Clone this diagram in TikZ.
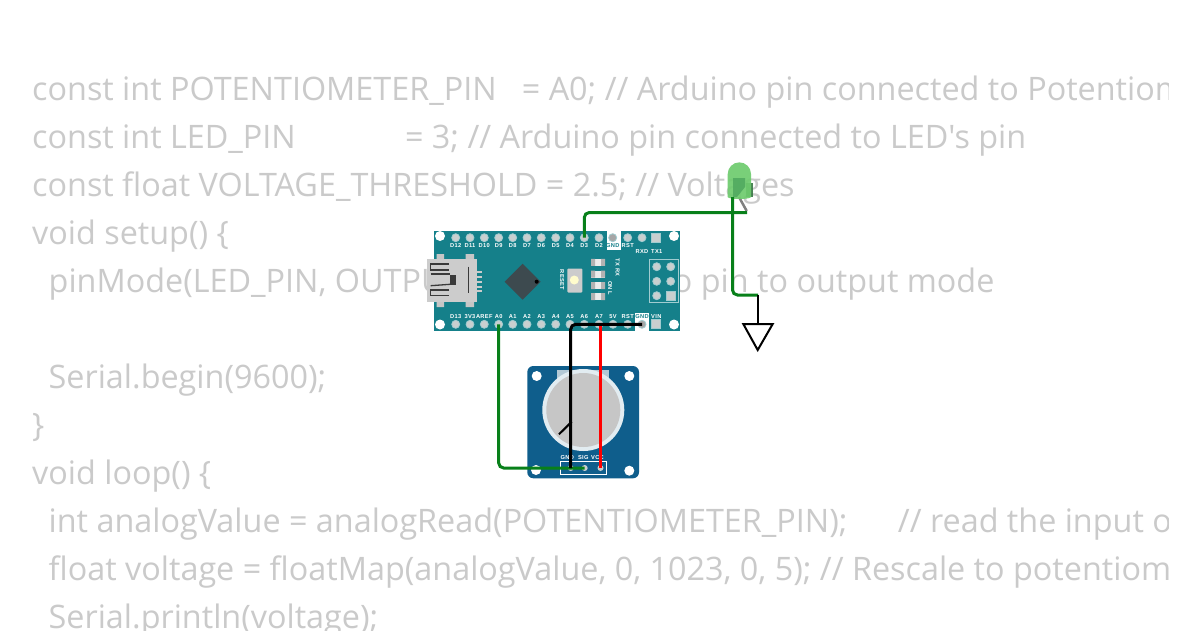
\documentclass[tikz,border=0pt]{standalone}
\usepackage{fontspec}
\usepackage{tikz}
\usetikzlibrary{arrows,positioning}
\newfontfamily\codefont{Open Sans}
\newfontfamily\silkfont[LetterSpace=6]{Liberation Sans}
\definecolor{boardteal}{HTML}{15808A}
\definecolor{potblue}{HTML}{0F5E8C}
\definecolor{codegray}{HTML}{CACACA}
\definecolor{wiregreen}{HTML}{08801A}
\definecolor{wirered}{HTML}{FF0000}
\definecolor{pinhole}{HTML}{C9CFCF}
\definecolor{chipdark}{HTML}{3D4A4F}
\definecolor{usbline}{HTML}{3A3A3A}
\definecolor{ledbody}{HTML}{6ECB6E}
\definecolor{ledcore}{HTML}{4FA85F}
\tikzset{
  codeline/.style={anchor=base west,inner sep=0pt,text=codegray,font=\codefont\fontsize{32.35}{32.35}\selectfont},
  pinpad/.style={circle,fill=pinhole,draw=white!60!boardteal,line width=.8pt,minimum size=8pt,inner sep=0pt},
  squarepad/.style={rectangle,fill=pinhole,draw=white!60!boardteal,line width=.8pt,minimum size=9pt,inner sep=0pt},
  mounthole/.style={circle,fill=white,minimum size=10pt,inner sep=0pt},
  silk/.style={inner sep=0pt,text=white,font=\silkfont\bfseries\fontsize{5.7}{5.7}\selectfont},
  silkdark/.style={silk,text=boardteal},
  ledchip/.style={rectangle,fill=white!85!gray,minimum width=14pt,minimum height=7pt,inner sep=0pt},
  potpad/.style={circle,fill=pinhole,minimum size=6pt,inner sep=0pt},
  usbink/.style={usbline,line width=1.3pt},
  wire/.style={line width=3pt,rounded corners=5pt}
}
\begin{document}
\begin{tikzpicture}[x=1pt,y=-1pt]
    \useasboundingbox (0,0) rectangle (1200,630);
    \fill[white] (0,0) rectangle (1200,630);

    % code behind the circuit
    \begin{scope}
      \clip (0,0) rectangle (1168,630);
      \node[codeline] (code1) at (32,100) {const int POTENTIOMETER\_PIN~~~= A0; // Arduino pin connected to Potentiom};
      \node[codeline] (code2) at (32,148) {const int LED\_PIN~~~~~~~~~~~~~= 3; // Arduino pin connected to LED's pin};
      \node[codeline] (code3) at (32,196) {const float VOLTAGE\_THRESHOLD = 2.5; // Voltages};
      \node[codeline] (code4) at (32,244) {void setup() \{};
      \node[codeline] (code5) at (48.5,292) {pinMode(LED\_PIN, OUTPUT); // set arduino pin to output mode};
      \node[codeline] (code6) at (48.5,388) {Serial.begin(9600);};
      \node[codeline] (code7) at (32,436) {\}};
      \node[codeline] (code8) at (32,484) {void loop() \{};
      \node[codeline] (code9) at (48.5,532) {int analogValue = analogRead(POTENTIOMETER\_PIN);~~~~~~// read the input o};
      \node[codeline] (code10) at (48.5,580) {float voltage = floatMap(analogValue, 0, 1023, 0, 5); // Rescale to potentiom};
      \node[codeline] (code11) at (48.5,628) {Serial.println(voltage);};
    \end{scope}

    % nano board
    \fill[boardteal] (434,231) rectangle (680,331);
    \fill[white] (606.7,231) rectangle (620.7,249.5);
    \fill[white] (635,312.5) rectangle (649.3,331);
    \foreach \pos/\x in {a/440,b/674} {
      \node[mounthole] (hole\pos top) at (\x,236) {};
      \node[mounthole] (hole\pos bot) at (\x,324.5) {};
    }
    \foreach \name/\x in {D12/455.7,D11/470,D10/484.3,D9/498.7,D8/512.7,D7/527,D6/541.3,D5/555.7,D4/570,D3/584.3,D2/599,RST/627.7,RXD/642} {
      \node[pinpad] (pin\name) at (\x,237.7) {};
    }
    \node[pinpad,fill=gray!70] (pinGNDtop) at (612.7,237.7) {};
    \node[squarepad] (pinTX) at (656.3,237.7) {};
    \foreach \name/\x in {D12/455.7,D11/470,D10/484.3,D9/498.7,D8/512.7,D7/527,D6/541.3,D5/555.7,D4/570,D3/584.3,D2/599,RST/627.7} {
      \node[silk] (label\name) at (\x,245.7) {\name};
    }
    \node[silkdark] (labelGNDtop) at (612.7,245.7) {GND};
    \node[silk] (labelRXD) at (642,252) {RXD};
    \node[silk] (labelTX) at (656.8,252) {TX1};
    \foreach \name/\x in {D13/455.7,3V3/470,AREF/484.3,A0/498.7,A1/512.7,A2/527,A3/541.3,A4/555.7,A5/570,A6/584.3,A7/599,5V/613,RSTb/627.7} {
      \node[pinpad] (pin\name) at (\x,324.3) {};
    }
    \foreach \name/\x in {D13/455.7,3V3/470,AREF/484.3,A0/498.7,A1/512.7,A2/527,A3/541.3,A4/555.7,A5/570,A6/584.3,A7/599,5V/613,RST/627.7} {
      \node[silk] (bot\name) at (\x,316.7) {\name};
    }
    \node[pinpad,fill=gray!70] (pinGNDbot) at (642,324.3) {};
    \node[squarepad] (pinVIN) at (656.3,324.3) {};
    \node[silkdark] (labelGNDbot) at (642,316.7) {GND};
    \node[silk] (labelVIN) at (656.3,316.7) {VIN};

    % usb socket
    \fill[gray!45] (436.7,254) rectangle (444,260) (465.7,254) rectangle (474,260) (436.7,301) rectangle (444,307) (465.7,301) rectangle (474,307);
    \node[rectangle,fill=gray!40,minimum width=49.4pt,minimum height=43.3pt,inner sep=0pt] (usb) at (452,280.6) {};
    \foreach \y in {271.7,276.7,281.7,286.7,290.7} {
      \fill[gray!40] (476,\y-1.2) rectangle (482,\y+1.2);
    }
    \draw[usbink] (449,264) -- (430.7,264) -- (430.7,270) -- (449,270);
    \draw[usbink] (430.7,274) -- (450,274);
    \draw[usbink] (430.7,285.7) -- (450,284.3);
    \draw[usbink] (449,290) -- (430.7,290) -- (430.7,295.7) -- (449,295.7);
    \draw[usbink] (468.3,266.7) -- (468.3,293.3);
    \fill[usbline] (450,274.5) rectangle (455.7,285);

    % chip
    \fill[chipdark] (522.7,263.7) -- (540.7,281.7) -- (522.7,299.7) -- (504.7,281.7) -- cycle;
    \fill[black] (536.7,281.7) circle (2pt);

    % reset button
    \node[rectangle,rounded corners=1pt,fill=gray!40,minimum width=15pt,minimum height=24pt,inner sep=0pt] (reset) at (574.8,280.5) {};
    \node[circle,fill=white!80!yellow,minimum size=9pt,inner sep=0pt] (resetcap) at (574.3,280) {};
    \node[silk,rotate=-90] (labelreset) at (562,280) {RESET};

    % leds on the board
    \foreach \y [count=\i] in {262.3,274,285.7,296.7} {
      \node[ledchip] (chip\i) at (598,\y) {};
      \fill[gray!60] (591,\y-3.5) rectangle (595,\y+3.5) (601,\y-3.5) rectangle (605,\y+3.5);
    }
    \node[silk,rotate=-90] (labeltxrx) at (617.7,267.7) {TX RX};
    \node[silk,rotate=-90] (labelonl) at (610,288.3) {ON L};

    % icsp header
    \draw[white!60!boardteal,line width=.8pt] (649.3,259.3) rectangle (678.7,302.7);
    \foreach \x/\y [count=\i] in {656.7/266.7,670.7/266.7,656.7/281.3,670.7/281.3,656.7/295.7} {
      \node[pinpad] (icsp\i) at (\x,\y) {};
    }
    \node[squarepad] (icsp6) at (670.7,295.7) {};

    % potentiometer
    \fill[potblue,rounded corners=6pt] (527.3,366) rectangle (639,478.3);
    \fill[gray!20!potblue!35!white] (557.3,370) rectangle (609.3,385);
    \foreach \x/\y [count=\i] in {536.7/376,629.3/376,536/470,629.3/470.7} {
      \node[mounthole] (pothole\i) at (\x,\y) {};
    }
    \node[circle,fill=white!88!potblue,minimum size=82pt,inner sep=0pt] (dialrim) at (583.3,410) {};
    \node[circle,fill=gray!45,minimum size=74pt,inner sep=0pt] (dial) at (583.3,410) {};
    \draw[white,line width=1pt] (560.7,461.7) rectangle (606.7,474);
    \node[potpad] (potGND) at (570.7,468) {};
    \node[potpad] (potSIG) at (584.7,468) {};
    \node[potpad] (potVCC) at (600.5,468) {};
    \node[silk] (labelpotGND) at (567.3,458) {GND};
    \node[silk] (labelpotSIG) at (583.3,458) {SIG};
    \node[silk] (labelpotVCC) at (597.5,458) {VCC};
    \coordinate (pointer) at (571.7,421.7);
    \draw[black,line width=2pt] (559,434.3) -- (pointer);

    % green led
    \coordinate (ledA) at (732.5,197);
    \coordinate (ledK) at (747,212.5);
    \draw[gray,line width=2.5pt] (ledA) -- (732.5,212);
    \draw[gray,line width=2.5pt] (739,197) -- (746.7,211);
    \fill[ledcore!70!black,opacity=.9] (746,183) rectangle (752.5,197);
    \fill[ledbody,opacity=.92] (727.7,197) -- (727.7,174) arc (180:360:11.65) -- (751,197) arc (0:180:11.65 and 2) -- cycle;
    \fill[ledcore,opacity=.85] (733,178) -- (745,178) -- (745,187) -- (737,197) -- (733,197) -- cycle;

    % ground symbol
    \coordinate (gndtop) at (758,324);
    \draw[black,line width=2pt,fill=white] (743.3,324) -- (772.7,324) -- (757.7,350) -- cycle;

    % wires
    \coordinate (wirebend) at (758,295);
    \coordinate (redtop) at (600.5,326);
    \draw[wire,wiregreen] (pinD3.center) |- (ledK);
    \draw[wire,wiregreen] (ledA) |- (wirebend);
    \draw[black,line width=2.5pt] (wirebend) -- (gndtop);
    \draw[wire,wiregreen] (pinA0.center) |- (potSIG.center);
    \draw[wire,wirered] (redtop) -- (potVCC.center);
    \draw[wire,black] (pinGNDbot.center) -| (potGND.center);
\end{tikzpicture}
\end{document}
